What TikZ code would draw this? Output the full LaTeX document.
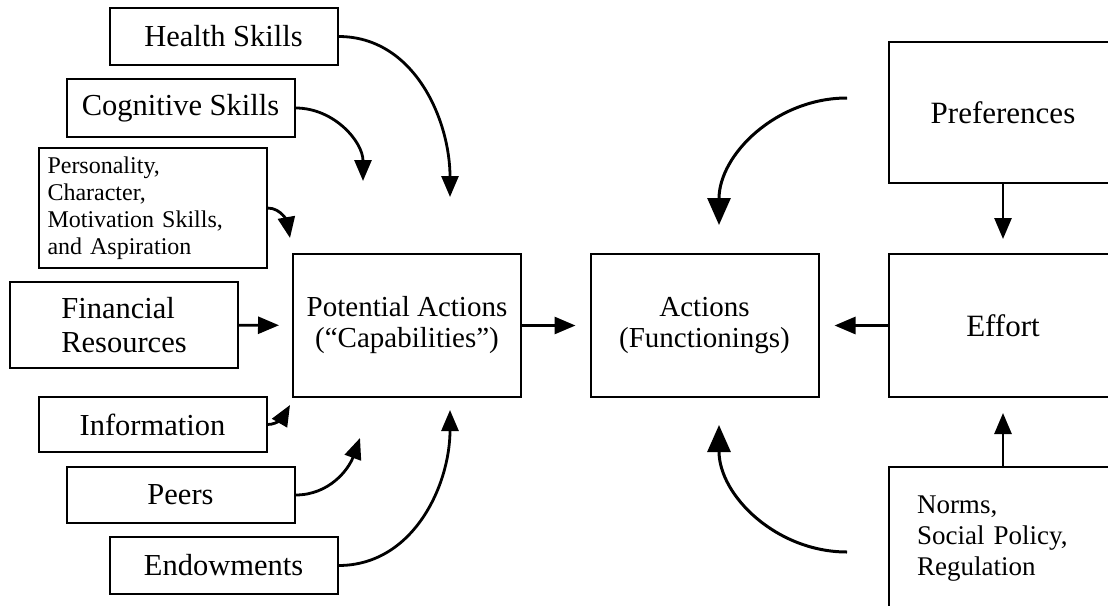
\documentclass[tikz,border=0pt]{standalone}
\usepackage{fontspec}
\setmainfont{Liberation Serif}
\usetikzlibrary{arrows.meta}
\tikzset{
	smallbox/.style={draw, line width=2pt, minimum width=228pt, align=left, font=\fontsize{30.5pt}{34pt}\selectfont},
	bigbox/.style={draw, line width=2pt, minimum width=228pt, minimum height=143pt, align=center, font=\fontsize{29pt}{31pt}\selectfont},
	arr/.style={line width=2.8pt, -{Triangle[length=21pt,width=17pt]}},
	bigarr/.style={line width=3pt, -{Triangle[length=27pt,width=23pt]}}
}
\begin{document}
\begin{tikzpicture}[x=1pt,y=1pt]
		\clip (0,0) rectangle (1108,-605);
		\node[smallbox, minimum height=57pt] (health) at (223.5,-36.5) {Health Skills};
		\node[smallbox, minimum height=58pt] (cogn) at (180.5,-108) {Cognitive Skills};
		\node[smallbox, minimum height=120pt, text width=210pt, inner xsep=8pt, font=\fontsize{24pt}{27pt}\selectfont] (pers) at (152.5,-208) {Personality,\\Character,\\Motivation Skills,\\and Aspiration};
		\node[smallbox, minimum height=86pt] (fin) at (124,-325) {Financial\\Resources};
		\node[smallbox, minimum height=55pt] (info) at (152.5,-424.5) {Information};
		\node[smallbox, minimum height=56pt] (peers) at (180.5,-495) {Peers};
		\node[smallbox, minimum height=57pt] (endow) at (223.5,-565.5) {Endowments};
		\node[bigbox] (pot) at (407,-325.5) {Potential Actions\\(“Capabilities”)};
		\node[bigbox] (act) at (704.5,-325.5) {Actions\\(Functionings)};
		\node[bigbox, font=\fontsize{31pt}{33pt}\selectfont] (effort) at (1003,-325.5) {Effort};
		\node[bigbox, minimum height=141pt, font=\fontsize{31pt}{33pt}\selectfont] (pref) at (1003,-112.5) {Preferences};
		\node[bigbox, align=left, text width=172pt, inner xsep=28pt, font=\fontsize{27pt}{31pt}\selectfont] (norms) at (1003,-538.5) {Norms,\\Social Policy,\\Regulation};
		\coordinate (pot-health) at (450,-197);
		\coordinate (pot-cogn) at (363,-181);
		\coordinate (pot-pers) at (290,-238);
		\coordinate (pot-info) at (290,-405);
		\coordinate (pot-peers) at (360,-438);
		\coordinate (pot-endow) at (450,-410);
		\coordinate (pref-src) at (847,-98);
		\coordinate (act-top) at (719,-225);
		\coordinate (norms-src) at (847,-552);
		\coordinate (act-bot) at (719,-425);
		\draw[arr] (health.east) to[out=0,in=90] (pot-health);
		\draw[arr] (cogn.east) to[out=0,in=90] (pot-cogn);
		\draw[arr] (pers.east) to[out=0,in=100] (pot-pers);
		\draw[arr, shorten >=13pt] (fin) -- (pot);
		\draw[arr] (info.east) to[out=0,in=-120] (pot-info);
		\draw[arr] (peers.east) to[out=0,in=-110] (pot-peers);
		\draw[arr] (endow.east) to[out=0,in=-90] (pot-endow);
		\draw[arr, shorten >=14pt] (pot) -- (act);
		\draw[arr, shorten >=15pt] (effort) -- (act);
		\draw[arr, shorten >=14pt] (pref) -- (effort);
		\draw[arr, shorten >=15pt] (norms) -- (effort);
		\draw[bigarr] (pref-src) to[out=180,in=90] (act-top);
		\draw[bigarr] (norms-src) to[out=180,in=-90] (act-bot);
\end{tikzpicture}
\end{document}
